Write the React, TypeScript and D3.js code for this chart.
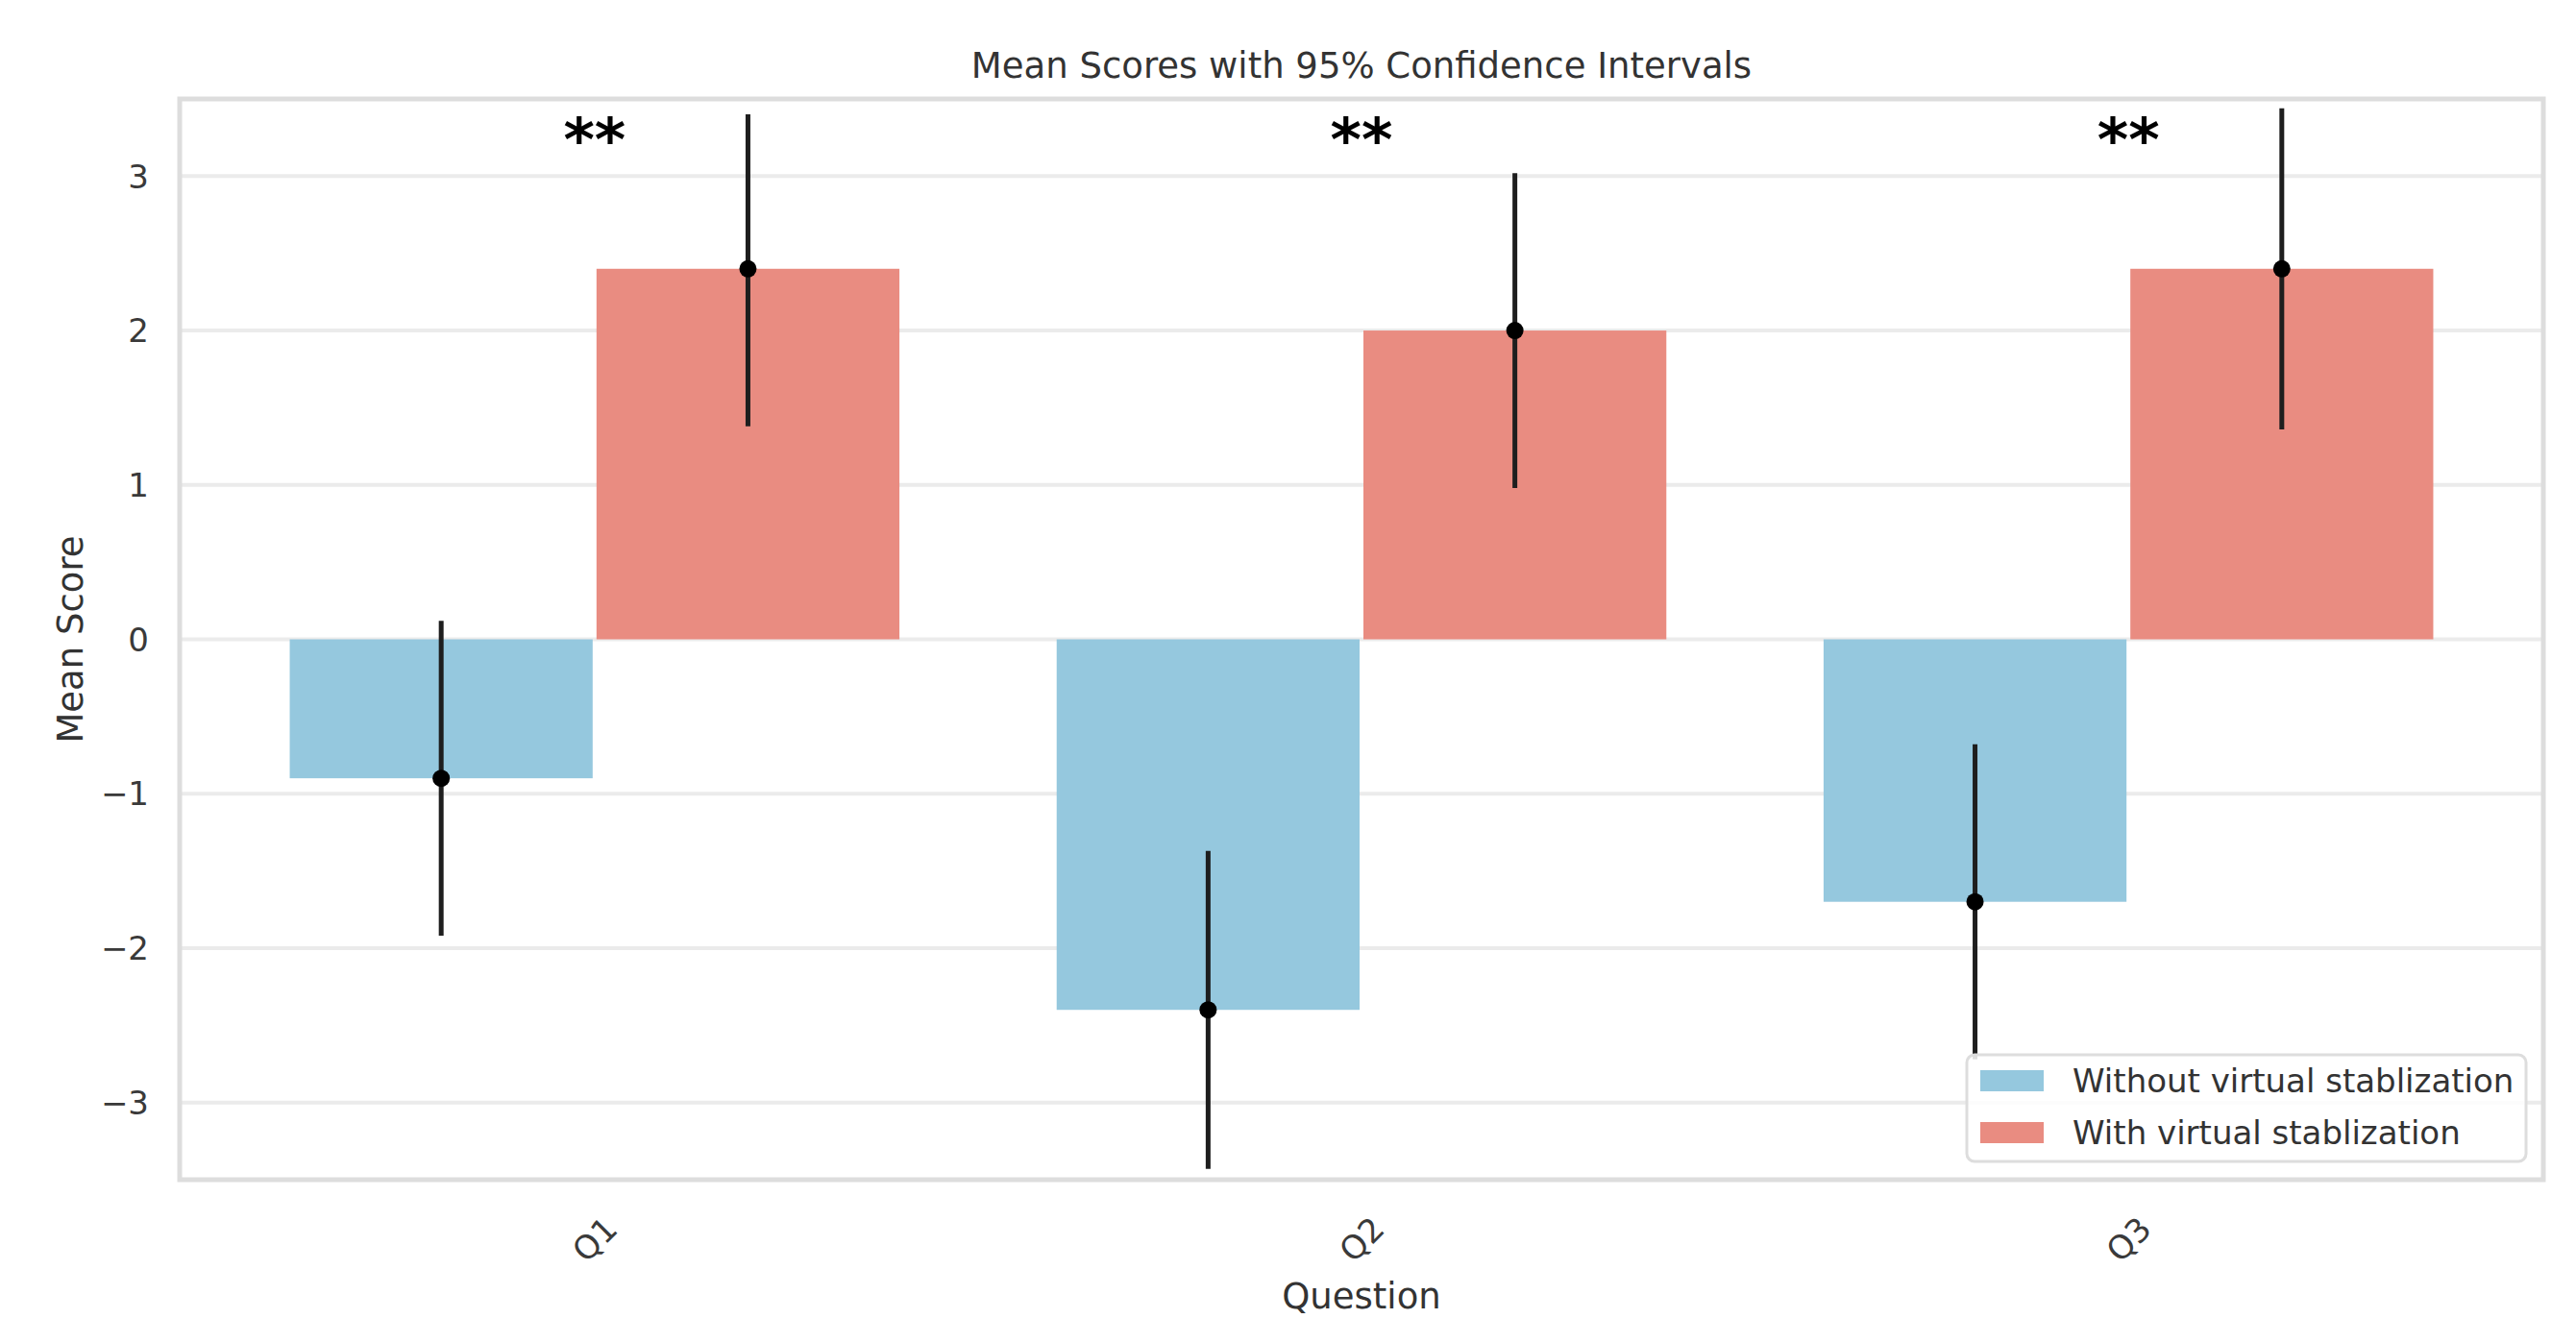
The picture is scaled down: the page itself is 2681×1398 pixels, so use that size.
import { useEffect, useRef } from 'react';
import * as d3 from 'd3';

const questions = ['Q1', 'Q2', 'Q3'];
const seriesNames = ['Without virtual stablization', 'With virtual stablization'];
const withoutMeans = [-0.9, -2.4, -1.7];
const withMeans = [2.4, 2.0, 2.4];
const withoutLower = [-1.92, -3.43, -2.72];
const withoutUpper = [0.12, -1.37, -0.68];
const withLower = [1.38, 0.98, 1.36];
const withUpper = [3.4, 3.02, 3.44];
const significance = ['**', '**', '**'];
const yTicks = [-3, -2, -1, 0, 1, 2, 3];

const seriesColors = ['#95c8de', '#e98c81'];

interface Bar {
  question: string;
  series: string;
  mean: number;
  lower: number;
  upper: number;
  color: string;
}

export default function App() {
  const svgRef = useRef<SVGSVGElement>(null);

  useEffect(() => {
    if (!svgRef.current) return;

    const W = 2681;
    const H = 1398;
    const left = 187;
    const right = 2647;
    const top = 103;
    const bottom = 1228;
    const font = 'DejaVu Sans, sans-serif';

    const root = d3.select(svgRef.current);
    root.selectAll('*').remove();
    root.attr('width', W).attr('height', H).attr('viewBox', `0 0 ${W} ${H}`);

    root.append('rect').attr('width', W).attr('height', H).attr('fill', '#ffffff');

    const x = d3
      .scaleBand<string>()
      .domain(questions)
      .range([left, right])
      .paddingInner(0.2)
      .paddingOuter(0.141);

    const xSub = d3
      .scaleBand<string>()
      .domain(seriesNames)
      .range([0, x.bandwidth()]);

    const y = d3.scaleLinear().domain([-3.5, 3.5]).range([bottom, top]);

    const bars: Bar[] = [];
    questions.forEach((q, i) => {
      bars.push({
        question: q,
        series: seriesNames[0],
        mean: withoutMeans[i],
        lower: withoutLower[i],
        upper: withoutUpper[i],
        color: seriesColors[0],
      });
      bars.push({
        question: q,
        series: seriesNames[1],
        mean: withMeans[i],
        lower: withLower[i],
        upper: withUpper[i],
        color: seriesColors[1],
      });
    });

    // grid
    root
      .append('g')
      .selectAll('line')
      .data(yTicks)
      .enter()
      .append('line')
      .attr('x1', left)
      .attr('x2', right)
      .attr('y1', (d) => y(d))
      .attr('y2', (d) => y(d))
      .attr('stroke', '#ebebeb')
      .attr('stroke-width', 4);

    // bars
    const cx = (d: Bar) => (x(d.question) ?? 0) + (xSub(d.series) ?? 0) + xSub.bandwidth() / 2;

    root
      .append('g')
      .selectAll('rect')
      .data(bars)
      .enter()
      .append('rect')
      .attr('x', (d) => (x(d.question) ?? 0) + (xSub(d.series) ?? 0) + 2)
      .attr('width', xSub.bandwidth() - 4)
      .attr('y', (d) => y(Math.max(0, d.mean)))
      .attr('height', (d) => Math.abs(y(d.mean) - y(0)))
      .attr('fill', (d) => d.color);

    // confidence intervals
    root
      .append('g')
      .selectAll('line')
      .data(bars)
      .enter()
      .append('line')
      .attr('x1', cx)
      .attr('x2', cx)
      .attr('y1', (d) => y(d.upper))
      .attr('y2', (d) => y(d.lower))
      .attr('stroke', '#1e1e1e')
      .attr('stroke-width', 5);

    root
      .append('g')
      .selectAll('circle')
      .data(bars)
      .enter()
      .append('circle')
      .attr('cx', cx)
      .attr('cy', (d) => y(d.mean))
      .attr('r', 9)
      .attr('fill', '#000000');

    // significance stars
    root
      .append('g')
      .selectAll('text')
      .data(questions)
      .enter()
      .append('text')
      .attr('x', (d) => (x(d) ?? 0) + x.bandwidth() / 2)
      .attr('y', y(3.1))
      .attr('text-anchor', 'middle')
      .style('font-family', font)
      .style('font-weight', 'bold')
      .style('font-size', '62px')
      .attr('fill', '#000')
      .text((_, i) => significance[i]);

    // frame
    root
      .append('rect')
      .attr('x', left)
      .attr('y', top)
      .attr('width', right - left)
      .attr('height', bottom - top)
      .attr('fill', 'none')
      .attr('stroke', '#dddddd')
      .attr('stroke-width', 5);

    // y tick labels
    root
      .append('g')
      .selectAll('text')
      .data(yTicks)
      .enter()
      .append('text')
      .attr('x', 155)
      .attr('y', (d) => y(d))
      .attr('dy', '0.36em')
      .attr('text-anchor', 'end')
      .style('font-family', font)
      .style('font-size', '34px')
      .attr('fill', '#3a3a3a')
      .text((d) => d3.format('')(d).replace('-', '\u2212'));

    // x tick labels
    root
      .append('g')
      .selectAll('text')
      .data(questions)
      .enter()
      .append('text')
      .attr(
        'transform',
        (d) => `translate(${(x(d) ?? 0) + x.bandwidth() / 2}, 1290) rotate(-45)`,
      )
      .attr('dy', '0.36em')
      .attr('text-anchor', 'middle')
      .style('font-family', font)
      .style('font-size', '34px')
      .attr('fill', '#3a3a3a')
      .text((d) => d);

    // title and axis labels
    root
      .append('text')
      .attr('x', (left + right) / 2)
      .attr('y', 81)
      .attr('text-anchor', 'middle')
      .style('font-family', font)
      .style('font-size', '37px')
      .attr('fill', '#333333')
      .text('Mean Scores with 95% Confidence Intervals');

    root
      .append('text')
      .attr('x', (left + right) / 2)
      .attr('y', 1362)
      .attr('text-anchor', 'middle')
      .style('font-family', font)
      .style('font-size', '37px')
      .attr('fill', '#333333')
      .text('Question');

    root
      .append('text')
      .attr('transform', `translate(86, ${(top + bottom) / 2}) rotate(-90)`)
      .attr('text-anchor', 'middle')
      .style('font-family', font)
      .style('font-size', '37px')
      .attr('fill', '#333333')
      .text('Mean Score');

    // legend
    const lg = root.append('g').attr('transform', 'translate(2047, 1098)');
    lg.append('rect')
      .attr('width', 582)
      .attr('height', 111)
      .attr('rx', 8)
      .attr('fill', '#ffffff')
      .attr('fill-opacity', 0.85)
      .attr('stroke', '#dddddd')
      .attr('stroke-width', 3);

    const items = lg
      .selectAll('g.item')
      .data(seriesNames)
      .enter()
      .append('g')
      .attr('class', 'item')
      .attr('transform', (_, i) => `translate(0, ${27 + i * 54})`);

    items
      .append('rect')
      .attr('x', 14)
      .attr('y', -11)
      .attr('width', 66)
      .attr('height', 22)
      .attr('fill', (_, i) => seriesColors[i]);

    items
      .append('text')
      .attr('x', 110)
      .attr('dy', '0.36em')
      .style('font-family', font)
      .style('font-size', '34px')
      .attr('fill', '#333333')
      .text((d) => d);
  }, []);

  return (
    <div style={{ position: 'absolute', left: 0, top: 0 }}>
      <svg ref={svgRef} style={{ display: 'block' }} />
    </div>
  );
}
